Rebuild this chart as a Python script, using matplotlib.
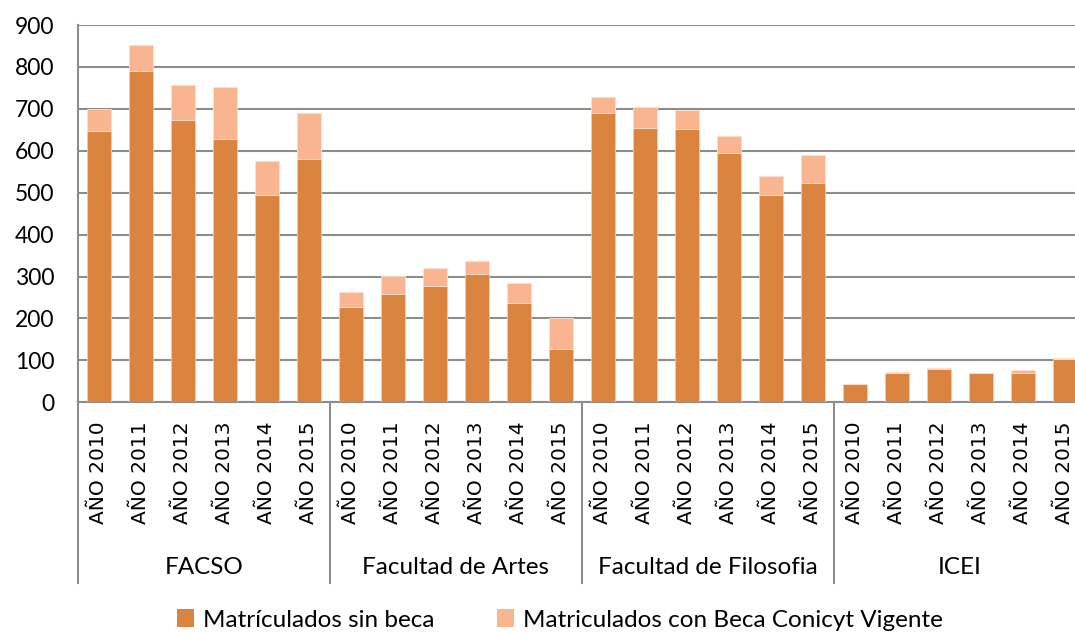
import matplotlib.pyplot as plt
from matplotlib.patches import Patch
from matplotlib.transforms import blended_transform_factory
import numpy as np

plt.rcParams['font.family'] = ['Lato', 'DejaVu Sans']

# Enrolment data per faculty and year
facultades = ["FACSO", "Facultad de Artes", "Facultad de Filosofia", "ICEI"]
anios = ["AÑO 2010", "AÑO 2011", "AÑO 2012", "AÑO 2013", "AÑO 2014", "AÑO 2015"]

sin_beca = [648, 791, 673, 629, 495, 580,
            228, 259, 278, 307, 238, 126,
            690, 654, 652, 595, 494, 522,
            43, 70, 79, 70, 70, 104]
con_beca = [52, 61, 85, 122, 80, 111,
            35, 42, 43, 30, 46, 75,
            38, 50, 45, 41, 45, 69,
            1, 2, 4, 1, 6, 1]

c_sin = "#DA843F"
c_con = "#F9B590"
gris = "#8C8C8C"

fig = plt.figure(figsize=(10.75, 6.33), dpi=100)
ax = fig.add_axes([78 / 1075, 1 - 402.3 / 633, 1008 / 1075, 377.3 / 633])

x = np.arange(len(sin_beca))
ax.bar(x, sin_beca, width=0.57, color=c_sin, edgecolor="#F3C9A8", linewidth=0.6, zorder=3)
ax.bar(x, con_beca, bottom=sin_beca, width=0.57, color=c_con, edgecolor="#FCE0D0",
       linewidth=0.6, zorder=3)

ax.set_xlim(-0.5, len(x) - 0.5)
ax.set_ylim(0, 900)
ax.set_yticks(range(0, 901, 100))
ax.yaxis.grid(True, color=gris, linewidth=1.5)
ax.set_axisbelow(True)
ax.tick_params(axis='y', length=0, pad=17, labelsize=16.5, labelcolor="#000000")

ax.set_xticks(x)
ax.set_xticklabels(anios * len(facultades), rotation=90, fontsize=14.5,
                   family=['DejaVu Sans'])
ax.tick_params(axis='x', length=0, pad=14)

for s in ["top", "right"]:
    ax.spines[s].set_visible(False)
for s in ["left", "bottom"]:
    ax.spines[s].set_color(gris)
    ax.spines[s].set_linewidth(1.5)

# Group separators and faculty names below the year labels
trans = blended_transform_factory(ax.transData, ax.transAxes)
n = len(anios)
for i in range(len(facultades) + 1):
    ax.plot([i * n - 0.5, i * n - 0.5], [0, -0.478], color=gris, linewidth=1.5,
            transform=trans, clip_on=False)
for i, nombre in enumerate(facultades):
    ax.text(i * n + (n - 1) / 2, -0.437, nombre, transform=trans, ha='center',
            va='center', fontsize=17.5)

handles = [Patch(facecolor=c_sin, label="Matrículados sin beca"),
           Patch(facecolor=c_con, label="Matriculados con Beca Conicyt Vigente")]
fig.legend(handles=handles, loc='center', bbox_to_anchor=(0.521, 1 - 620 / 633), ncol=2,
           frameon=False, fontsize=17.5, handlelength=0.7, handleheight=0.7,
           columnspacing=2.6, handletextpad=0.35)

fig.savefig("out.png", dpi=100)
